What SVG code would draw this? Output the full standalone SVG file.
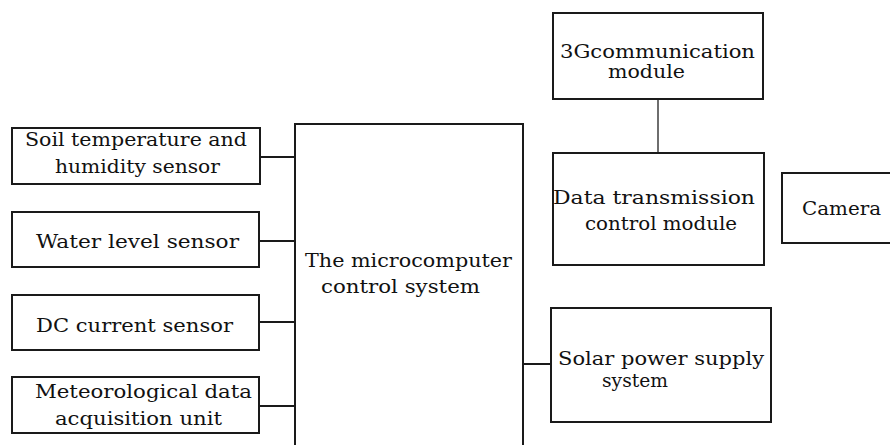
<svg xmlns="http://www.w3.org/2000/svg" width="890" height="445" viewBox="0 0 890 445">
<style>
.box{fill:#fff;stroke:#1a1a1a;stroke-width:2}
.ln{stroke:#1a1a1a;stroke-width:2;fill:none}
.gl{stroke:#6e6e6e;stroke-width:2;fill:none}
text{font-family:"DejaVu Serif","Liberation Serif",serif;font-size:18.5px;fill:#111}
</style>
<rect width="890" height="445" fill="#fff"/>
<g id="connectors">
<line class="ln" x1="260" y1="157" x2="295" y2="157"/>
<line class="ln" x1="259" y1="241" x2="295" y2="241"/>
<line class="ln" x1="259" y1="322" x2="295" y2="322"/>
<line class="ln" x1="259" y1="406" x2="295" y2="406"/>
<line class="ln" x1="523" y1="364" x2="551" y2="364"/>
<line class="gl" x1="658" y1="99" x2="658" y2="153"/>
</g>
<g id="soil">
<rect class="box" x="12" y="128" width="248" height="56"/>
<text x="25" y="146" textLength="222" lengthAdjust="spacingAndGlyphs">Soil temperature and</text>
<text x="55" y="173" textLength="165" lengthAdjust="spacingAndGlyphs">humidity sensor</text>
</g>
<g id="water">
<rect class="box" x="12" y="212" width="247" height="55"/>
<text x="36" y="248" textLength="203" lengthAdjust="spacingAndGlyphs">Water level sensor</text>
</g>
<g id="dc">
<rect class="box" x="12" y="295" width="247" height="55"/>
<text x="36" y="332" textLength="197" lengthAdjust="spacingAndGlyphs">DC current sensor</text>
</g>
<g id="meteo">
<rect class="box" x="12" y="377" width="247" height="56"/>
<text x="35" y="398" textLength="217" lengthAdjust="spacingAndGlyphs">Meteorological data</text>
<text x="55" y="425" textLength="167" lengthAdjust="spacingAndGlyphs">acquisition unit</text>
</g>
<g id="mcu">
<rect class="box" x="295" y="124" width="228" height="340"/>
<text x="305" y="267" textLength="207" lengthAdjust="spacingAndGlyphs">The microcomputer</text>
<text x="321" y="293" textLength="159" lengthAdjust="spacingAndGlyphs">control system</text>
</g>
<g id="g3">
<rect class="box" x="553" y="13" width="210" height="86"/>
<text x="560" y="58" textLength="195" lengthAdjust="spacingAndGlyphs">3Gcommunication</text>
<text x="608" y="78" textLength="77" lengthAdjust="spacingAndGlyphs">module</text>
</g>
<g id="dtc">
<rect class="box" x="553" y="153" width="211" height="112"/>
<text x="553" y="204" textLength="202" lengthAdjust="spacingAndGlyphs">Data transmission</text>
<text x="585" y="230" textLength="152" lengthAdjust="spacingAndGlyphs">control module</text>
</g>
<g id="camera">
<rect class="box" x="782" y="173" width="120" height="70"/>
<text x="802" y="215" textLength="79" lengthAdjust="spacingAndGlyphs">Camera</text>
</g>
<g id="solar">
<rect class="box" x="551" y="308" width="220" height="114"/>
<text x="558" y="365" textLength="206" lengthAdjust="spacingAndGlyphs">Solar power supply</text>
<text x="602" y="387" textLength="66" lengthAdjust="spacingAndGlyphs">system</text>
</g>
</svg>
